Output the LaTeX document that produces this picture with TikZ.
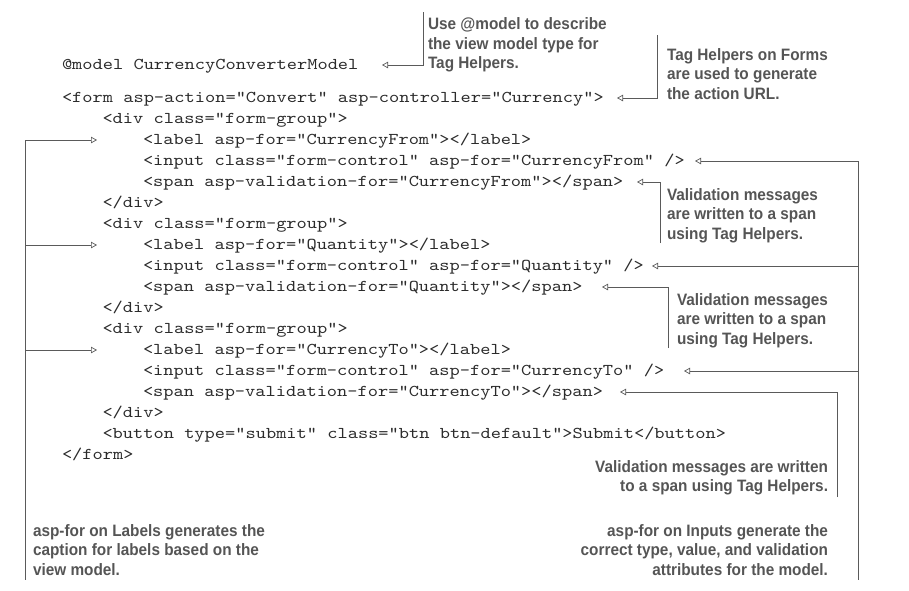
\documentclass[tikz,border=0pt]{standalone}
\usepackage{fontspec}
\usetikzlibrary{arrows.meta}
\newfontfamily\codefont[FakeStretch=1.18]{lmmono10-regular.otf}
\newfontfamily\notefont[FakeStretch=0.93]{Liberation Sans Bold}
\definecolor{codecol}{HTML}{2B2B2B}
\definecolor{notecol}{HTML}{555555}
\definecolor{linecol}{HTML}{5A5A5A}
\tikzset{
  code/.style={anchor=base west, inner sep=0pt, outer sep=0pt, text=codecol,
    font=\codefont\fontsize{16.5}{20}\selectfont},
  note/.style={anchor=base west, inner sep=0pt, outer sep=0pt, text=notecol,
    font=\notefont\fontsize{16.5}{19.5}\selectfont},
  noter/.style={note, anchor=base east},
  conn/.style={draw=linecol, line width=0.9pt},
  arr/.style={conn, -{Triangle[open, length=6pt, width=6.5pt, line width=0.7pt]}},
}
\begin{document}
\begin{tikzpicture}[x=1pt, y=-1pt]
\useasboundingbox (0,0) rectangle (909,590);
% ---- code ----
\node[code] (l0)  at (62,69.5)  {@model CurrencyConverterModel};
\node[code] (l1)  at (62,102.5) {<form asp-action="Convert" asp-controller="Currency">};
\node[code] (l2)  at (102.5,123.5) {<div class="form-group">};
\node[code] (l3)  at (143,144.5) {<label asp-for="CurrencyFrom"></label>};
\node[code] (l4)  at (143,165.5) {<input class="form-control" asp-for="CurrencyFrom" />};
\node[code] (l5)  at (143,186.5) {<span asp-validation-for="CurrencyFrom"></span>};
\node[code] (l6)  at (102.5,207.5) {</div>};
\node[code] (l7)  at (102.5,228.5) {<div class="form-group">};
\node[code] (l8)  at (143,249.5) {<label asp-for="Quantity"></label>};
\node[code] (l9)  at (143,270.5) {<input class="form-control" asp-for="Quantity" />};
\node[code] (l10) at (143,291.5) {<span asp-validation-for="Quantity"></span>};
\node[code] (l11) at (102.5,312.5) {</div>};
\node[code] (l12) at (102.5,333.5) {<div class="form-group">};
\node[code] (l13) at (143,354.5) {<label asp-for="CurrencyTo"></label>};
\node[code] (l14) at (143,375.5) {<input class="form-control" asp-for="CurrencyTo" />};
\node[code] (l15) at (143,396.5) {<span asp-validation-for="CurrencyTo"></span>};
\node[code] (l16) at (102.5,417.5) {</div>};
\node[code] (l17) at (102.5,438.5) {<button type="submit" class="btn btn-default">Submit</button>};
\node[code] (l18) at (62,459.5) {</form>};
% ---- notes ----
\node[note] (a1) at (428,29.5) {Use @model to describe};
\node[note] (a2) at (428,49)   {the view model type for};
\node[note] (a3) at (428,68.5) {Tag Helpers.};
\node[note] (b1) at (667,60)   {Tag Helpers on Forms};
\node[note] (b2) at (667,79.5) {are used to generate};
\node[note] (b3) at (667,99)   {the action URL.};
\node[note] (c1) at (667,200)  {Validation messages};
\node[note] (c2) at (667,219.5){are written to a span};
\node[note] (c3) at (667,239)  {using Tag Helpers.};
\node[note] (d1) at (677,305)  {Validation messages};
\node[note] (d2) at (677,324.5){are written to a span};
\node[note] (d3) at (677,344)  {using Tag Helpers.};
\node[noter] (e1) at (828,472)  {Validation messages are written};
\node[noter] (e2) at (828,491.5){to a span using Tag Helpers.};
\node[noter] (f1) at (828,536)  {asp-for on Inputs generate the};
\node[noter] (f2) at (828,555.5){correct type, value, and validation};
\node[noter] (f3) at (828,575)  {attributes for the model.};
\node[note] (g1) at (33,536)   {asp-for on Labels generates the};
\node[note] (g2) at (33,555.5) {caption for labels based on the};
\node[note] (g3) at (33,575)   {view model.};
% ---- connector points ----
\coordinate (t0) at (382,65);   \coordinate (v0) at (423,12);
\coordinate (t1) at (617,98);   \coordinate (v1) at (657,35);
\coordinate (t5) at (637,182);  \coordinate (v5) at (660,243);
\coordinate (t10) at (602,287); \coordinate (v10) at (668,348);
\coordinate (t15) at (620,392); \coordinate (v15) at (837,497);
\coordinate (rtop) at (858,161); \coordinate (rbot) at (858,580);
\coordinate (rq) at (858,266);   \coordinate (rt) at (858,371);
\coordinate (t4) at (695,161);  \coordinate (t9) at (652,266); \coordinate (t14) at (684,371);
\coordinate (ltop) at (25,140); \coordinate (lbot) at (25,580);
\coordinate (lq) at (25,245);   \coordinate (lt) at (25,350);
\coordinate (t3) at (97,140);   \coordinate (t8) at (97,245); \coordinate (t13) at (97,350);
% ---- connectors ----
\draw[arr] (v0) |- (t0);
\draw[arr] (v1) |- (t1);
\draw[arr] (v5) |- (t5);
\draw[arr] (v10) |- (t10);
\draw[arr] (v15) |- (t15);
\draw[conn] (rtop) -- (rbot);
\draw[arr] (rtop) -- (t4);
\draw[arr] (rq) -- (t9);
\draw[arr] (rt) -- (t14);
\draw[conn] (ltop) -- (lbot);
\draw[arr] (ltop) -- (t3);
\draw[arr] (lq) -- (t8);
\draw[arr] (lt) -- (t13);
\end{tikzpicture}
\end{document}
